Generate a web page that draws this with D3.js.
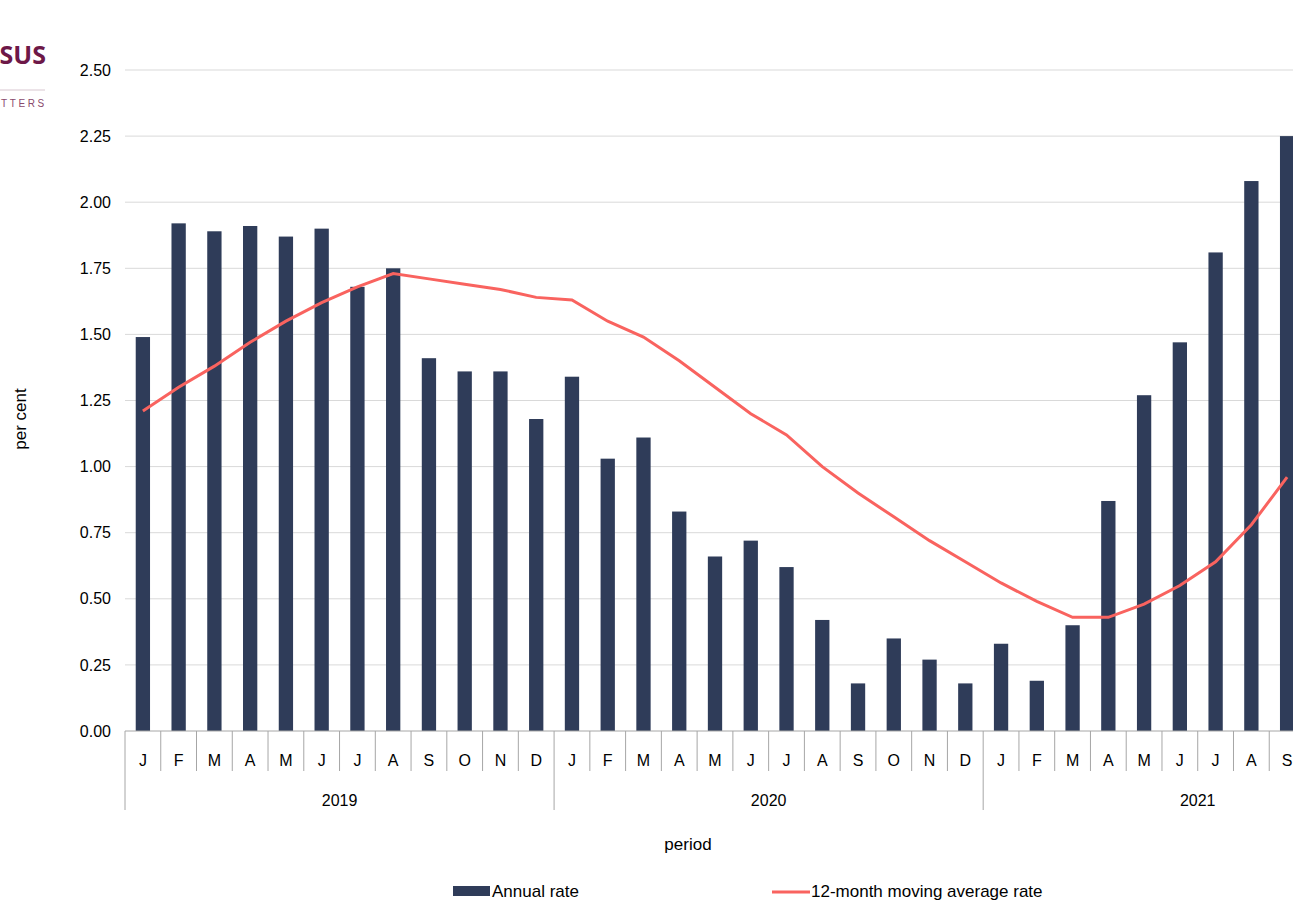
<!doctype html>
<html>
<head>
<meta charset="utf-8">
<title>Annual rate</title>
<style>
  body { margin:0; background:#fff; }
  svg { display:block; font-family:"Liberation Sans", Arial, sans-serif; }
  .tick text { font-size:16px; fill:#000; font-family:"Liberation Sans", Arial, sans-serif; }
  .grid line { stroke:#d9d9d9; stroke-width:1px; }
  .sep { stroke:#a6a6a6; stroke-width:1px; }
</style>
<script src="https://cdnjs.cloudflare.com/ajax/libs/d3/7.8.5/d3.min.js"></script>
</head>
<body>
<svg id="chart" width="1293" height="900"></svg>
<script>
// data
var years = ["2019", "2020", "2021"]
var months = ["J","F","M","A","M","J","J","A","S","O","N","D",
              "J","F","M","A","M","J","J","A","S","O","N","D",
              "J","F","M","A","M","J","J","A","S"]
var annualRate = [1.49,1.92,1.89,1.91,1.87,1.90,1.68,1.75,1.41,1.36,1.36,1.18,
                  1.34,1.03,1.11,0.83,0.66,0.72,0.62,0.42,0.18,0.35,0.27,0.18,
                  0.33,0.19,0.40,0.87,1.27,1.47,1.81,2.08,2.25]
var movingAvg = [1.21,1.30,1.38,1.47,1.55,1.62,1.68,1.73,1.71,1.69,1.67,1.64,
                 1.63,1.55,1.49,1.40,1.30,1.20,1.12,1.00,0.90,0.81,0.72,0.64,
                 0.56,0.49,0.43,0.43,0.48,0.55,0.64,0.78,0.96]
var yTicks = [0,0.25,0.5,0.75,1,1.25,1.5,1.75,2,2.25,2.5]

var svg = d3.select("#chart")
var pLeft = 125, pRight = 1305, pTop = 70, pBottom = 731
var idx = d3.range(months.length)

var x = d3.scaleBand().domain(idx).range([pLeft, pRight]).paddingInner(0.6).paddingOuter(0.3)
var xStep = (pRight - pLeft) / months.length
var y = d3.scaleLinear().domain([0, 2.5]).range([pBottom, pTop])

// logo fragment
svg.append("text").attr("x", 46).attr("y", 64).attr("text-anchor", "end")
  .style("font-family", "'Open Sans', sans-serif").style("font-weight", "bold")
  .style("font-size", "25px").style("fill", "#6d1848").text("SUS")
svg.append("line").attr("x1", 0).attr("x2", 45).attr("y1", 90).attr("y2", 90)
  .style("stroke", "#d8c7d0").style("stroke-width", 1)
svg.append("text").attr("x", 1).attr("y", 107)
  .style("font-size", "10px").style("letter-spacing", "2.6px").style("fill", "#8a4a6d").text("TTERS")

// gridlines + y axis
svg.append("g").attr("class", "grid")
  .selectAll("line").data(yTicks.slice(1)).enter().append("line")
  .attr("x1", pLeft).attr("x2", 1293)
  .attr("y1", d => y(d)).attr("y2", d => y(d))

var yAxis = svg.append("g").attr("transform", "translate(" + pLeft + ",0)")
  .call(d3.axisLeft(y).tickValues(yTicks).tickFormat(d3.format(".2f")).tickSize(0).tickPadding(14))
yAxis.select(".domain").remove()

svg.append("text").attr("transform", "translate(26," + (y(1.18)) + ") rotate(-90)")
  .attr("text-anchor", "middle").style("font-size", "17px").text("per cent")

// bars
svg.append("g").selectAll("rect").data(annualRate).enter().append("rect")
  .attr("x", (d, i) => x(i)).attr("width", x.bandwidth())
  .attr("y", d => y(d)).attr("height", d => y(0) - y(d))
  .style("fill", "#2f3c59")

// moving average line
var line = d3.line().x((d, i) => x(i) + x.bandwidth() / 2).y(d => y(d))
svg.append("path").datum(movingAvg).attr("d", line)
  .style("fill", "none").style("stroke", "#f9635f").style("stroke-width", 3)

// category axis
svg.append("line").attr("class", "sep").attr("x1", pLeft).attr("x2", 1293)
  .attr("y1", pBottom).attr("y2", pBottom)
svg.append("g").selectAll("line").data(d3.range(months.length + 1)).enter().append("line")
  .attr("class", "sep")
  .attr("x1", i => pLeft + i * xStep).attr("x2", i => pLeft + i * xStep)
  .attr("y1", pBottom).attr("y2", i => i % 12 === 0 ? 810 : 771)
svg.append("g").selectAll("text").data(months).enter().append("text")
  .attr("x", (d, i) => x(i) + x.bandwidth() / 2).attr("y", 766)
  .attr("text-anchor", "middle").style("font-size", "16px").text(d => d)
svg.append("g").selectAll("text").data(years).enter().append("text")
  .attr("x", (d, i) => pLeft + (i * 12 + 6) * xStep).attr("y", 806)
  .attr("text-anchor", "middle").style("font-size", "16px").text(d => d)

svg.append("text").attr("x", 688).attr("y", 850).attr("text-anchor", "middle")
  .style("font-size", "17px").text("period")

// legend
var lg = svg.append("g")
lg.append("rect").attr("x", 453).attr("y", 886).attr("width", 37).attr("height", 10).style("fill", "#2f3c59")
lg.append("text").attr("x", 492).attr("y", 897).style("font-size", "17px").text("Annual rate")
lg.append("line").attr("x1", 772).attr("x2", 810).attr("y1", 892).attr("y2", 892)
  .style("stroke", "#f9635f").style("stroke-width", 3)
lg.append("text").attr("x", 811).attr("y", 897).style("font-size", "17px").text("12-month moving average rate")
</script>
</body>
</html>
